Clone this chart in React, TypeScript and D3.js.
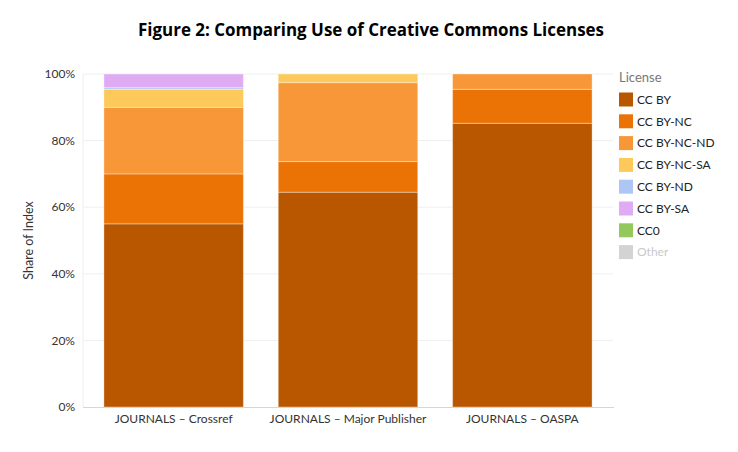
import { useEffect, useRef } from 'react'
import * as d3 from 'd3'

const categories = ['JOURNALS – Crossref', 'JOURNALS – Major Publisher', 'JOURNALS – OASPA']
const licenses = ['CC BY', 'CC BY-NC', 'CC BY-NC-ND', 'CC BY-NC-SA', 'CC BY-ND', 'CC BY-SA', 'CC0', 'Other']
const colors = ['#b85700', '#eb7306', '#f79738', '#fcc95a', '#aec6f5', '#dfacf3', '#92c85c', '#d3d3d3']

// share of index per license, one array per category (percent)
const crossref = [55, 15, 20, 5.4, 0.5, 4.1, 0, 0]
const majorPublisher = [64.5, 9.2, 23.7, 2.6, 0, 0, 0, 0]
const oaspa = [85.2, 10.2, 4.6, 0, 0, 0, 0, 0]
const seriesValues = [crossref, majorPublisher, oaspa]

const yTicks = [0, 20, 40, 60, 80, 100]

export default function App() {
  const svgRef = useRef<SVGSVGElement>(null)
  const width = 738
  const height = 452

  useEffect(() => {
    if (!svgRef.current) return
    const svg = d3.select(svgRef.current)
    svg.selectAll('*').remove()

    const left = 83, right = 613, top = 74, bottom = 407
    const font = 'Lato, "Open Sans", sans-serif'

    const x = d3.scaleBand<string>()
      .domain(categories)
      .range([left, right])
      .paddingInner(0.2)
      .paddingOuter(0.12)

    const y = d3.scaleLinear().domain([0, 100]).range([bottom, top])

    // title
    svg.append('text')
      .attr('x', 371)
      .attr('y', 36)
      .attr('text-anchor', 'middle')
      .attr('font-family', '"Open Sans", sans-serif')
      .attr('font-weight', 'bold')
      .attr('font-size', 17)
      .attr('textLength', 466)
      .attr('lengthAdjust', 'spacingAndGlyphs')
      .attr('fill', '#000')
      .text('Figure 2: Comparing Use of Creative Commons Licenses')

    // gridlines
    svg.append('g')
      .selectAll('line')
      .data(yTicks.filter(t => t > 0))
      .join('line')
      .attr('x1', left)
      .attr('x2', right)
      .attr('y1', d => y(d))
      .attr('y2', d => y(d))
      .attr('stroke', '#efefef')
      .attr('stroke-width', 1)

    // y axis line
    svg.append('line')
      .attr('x1', left).attr('x2', left)
      .attr('y1', top).attr('y2', bottom)
      .attr('stroke', '#eeeeee')

    svg.append('g')
      .selectAll('text')
      .data(yTicks)
      .join('text')
      .attr('x', 75)
      .attr('y', d => y(d))
      .attr('dy', '0.35em')
      .attr('text-anchor', 'end')
      .attr('font-family', font)
      .attr('font-size', 12)
      .attr('fill', '#333')
      .text(d => `${d}%`)

    svg.append('text')
      .attr('transform', `translate(33, ${(top + bottom) / 2}) rotate(-90)`)
      .attr('text-anchor', 'middle')
      .attr('font-family', font)
      .attr('font-size', 12.5)
      .attr('fill', '#333')
      .text('Share of Index')

    // stacked bars
    const rows = categories.map((c, i) => {
      const row: Record<string, number | string> = { category: c }
      licenses.forEach((l, j) => { row[l] = seriesValues[i][j] })
      return row
    })
    const stack = d3.stack<Record<string, number | string>>()
      .keys(licenses)
      .value((d, key) => d[key] as number)
    const layers = stack(rows)

    svg.append('g')
      .selectAll('g')
      .data(layers)
      .join('g')
      .attr('fill', (_, i) => colors[i])
      .selectAll('rect')
      .data(d => d.filter(s => s[1] - s[0] > 0))
      .join('rect')
      .attr('x', d => x(d.data.category as string) ?? 0)
      .attr('width', x.bandwidth())
      .attr('y', d => y(d[1]))
      .attr('height', d => y(d[0]) - y(d[1]))
      .attr('stroke', 'rgba(255,255,255,0.35)')
      .attr('stroke-width', 1)

    // x axis
    svg.append('line')
      .attr('x1', left).attr('x2', right + 1)
      .attr('y1', bottom + 0.5).attr('y2', bottom + 0.5)
      .attr('stroke', '#d6d6d6')

    svg.append('g')
      .selectAll('text')
      .data(categories)
      .join('text')
      .attr('x', d => (x(d) ?? 0) + x.bandwidth() / 2)
      .attr('y', 423)
      .attr('text-anchor', 'middle')
      .attr('font-family', font)
      .attr('font-size', 12)
      .attr('fill', '#333')
      .text(d => d)

    // legend
    const legend = svg.append('g').attr('transform', 'translate(619, 0)')
    legend.append('text')
      .attr('x', 0)
      .attr('y', 82)
      .attr('font-family', font)
      .attr('font-size', 13)
      .attr('fill', '#777')
      .text('License')

    const item = legend.selectAll('g.item')
      .data(licenses)
      .join('g')
      .attr('class', 'item')
      .attr('transform', (_, i) => `translate(0, ${92.5 + i * 21.8})`)

    item.append('rect')
      .attr('width', 14)
      .attr('height', 14)
      .attr('fill', (_, i) => colors[i])

    item.append('text')
      .attr('x', 18)
      .attr('y', 7)
      .attr('dy', '0.35em')
      .attr('font-family', font)
      .attr('font-size', 12)
      .attr('fill', (_, i) => (i === licenses.length - 1 ? '#c8c8c8' : '#222'))
      .text(d => d)
  }, [])

  return <svg ref={svgRef} width={width} height={height} style={{ display: 'block', margin: '-8px' }} />
}
